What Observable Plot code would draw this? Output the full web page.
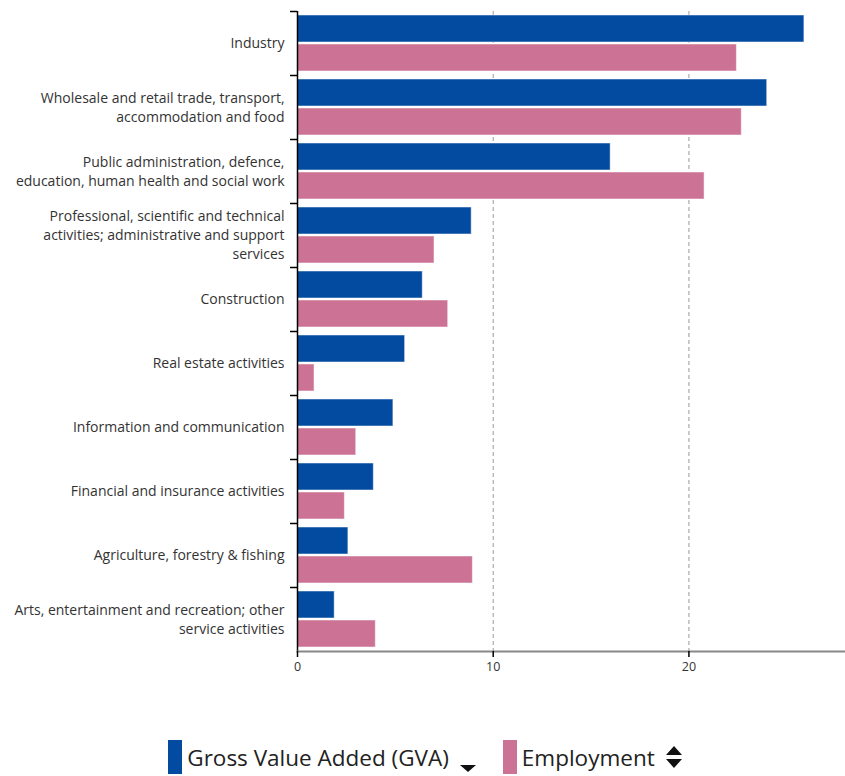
<!DOCTYPE html>
<html>
<head>
<meta charset="utf-8">
<script src="https://cdn.jsdelivr.net/npm/d3@7"></script>
<script src="https://cdn.jsdelivr.net/npm/@observablehq/plot@0.6"></script>
<style>
  body { margin: 0; background: #fff; font-family: "Open Sans", sans-serif; }
  #legend { display: flex; justify-content: center; align-items: center; margin-top: 50px; height: 34px; padding-left: 6px; }
  .item { display: flex; align-items: center; margin: 0 13px; font-size: 22.5px; color: #222; }
  .sw { width: 14px; height: 34px; margin-right: 5px; }
  .ic { margin-left: 10px; }
</style>
</head>
<body>
<div id="chart"></div>
<div id="legend"></div>
<script>
const categories = [
  "Industry",
  "Wholesale and retail trade, transport, accommodation and food",
  "Public administration, defence, education, human health and social work",
  "Professional, scientific and technical activities; administrative and support services",
  "Construction",
  "Real estate activities",
  "Information and communication",
  "Financial and insurance activities",
  "Agriculture, forestry & fishing",
  "Arts, entertainment and recreation; other service activities"
];
const labelLines = [
  "Industry",
  "Wholesale and retail trade, transport,\naccommodation and food",
  "Public administration, defence,\neducation, human health and social work",
  "Professional, scientific and technical\nactivities; administrative and support\nservices",
  "Construction",
  "Real estate activities",
  "Information and communication",
  "Financial and insurance activities",
  "Agriculture, forestry & fishing",
  "Arts, entertainment and recreation; other\nservice activities"
];
const gva = [25.9, 24.0, 16.0, 8.9, 6.4, 5.5, 4.9, 3.9, 2.6, 1.9];
const employment = [22.45, 22.7, 20.8, 7.0, 7.7, 0.87, 3.0, 2.42, 8.96, 4.0];
const xTicks = [0, 10, 20];
const series = ["Gross Value Added (GVA)", "Employment"];
const colors = ["#034ba1", "#cc7294"];

const rows = categories.map((c, i) => ({category: c, gva: gva[i], emp: employment[i]}));
const labelMap = new Map(categories.map((c, i) => [c, labelLines[i]]));

const chart = Plot.plot({
  width: 845,
  height: 690,
  marginLeft: 297,
  marginRight: 0,
  marginTop: 11,
  marginBottom: 39,
  style: {fontFamily: "Open Sans", fontSize: "13px", color: "#333", background: "#fff"},
  x: {domain: [0, 28]},
  y: {domain: categories, padding: 0, axis: null},
  marks: [
    Plot.gridX(xTicks.filter(d => d > 0), {stroke: "#999", strokeOpacity: 1, strokeDasharray: "4,3"}),
    Plot.barX(rows, {y: "category", x: "gva", fill: colors[0], insetTop: 4, insetBottom: 33, stroke: "#fff", strokeOpacity: 0.5}),
    Plot.barX(rows, {y: "category", x: "emp", fill: colors[1], insetTop: 33, insetBottom: 4, stroke: "#fff", strokeOpacity: 0.5}),
    Plot.axisY({tickSize: 0, tickPadding: 13, tickFormat: d => labelMap.get(d), lineHeight: 1.36, fill: "#333", fontSize: 14, dy: -1.5, label: null}),
    Plot.axisY({tickSize: 7, text: null, dy: -32, stroke: "#000", strokeWidth: 1.5, label: null}),
    Plot.ruleX([0], {stroke: "#000", strokeWidth: 1.5}),
    Plot.frame({anchor: "bottom", stroke: "#888", strokeWidth: 2}),
    Plot.axisX({ticks: xTicks, tickSize: 6, tickPadding: 5, stroke: "#000", strokeWidth: 1.5, fontSize: 12.5, fill: "#333", label: null})
  ]
});
document.getElementById("chart").appendChild(chart);

const legend = document.getElementById("legend");
const icons = [
  '<svg class="ic" width="18" height="34" viewBox="0 0 18 34"><path d="M1 25 L17 25 L9 32 Z" fill="#111"/></svg>',
  '<svg class="ic" width="18" height="34" viewBox="0 0 18 34"><path d="M1 15 L17 15 L9 6 Z M1 19 L17 19 L9 28 Z" fill="#111"/></svg>'
];
series.forEach((s, i) => {
  const d = document.createElement("div");
  d.className = "item";
  d.innerHTML = `<span class="sw" style="background:${colors[i]}"></span><span>${s}</span>${icons[i]}`;
  legend.appendChild(d);
});
</script>
</body>
</html>
